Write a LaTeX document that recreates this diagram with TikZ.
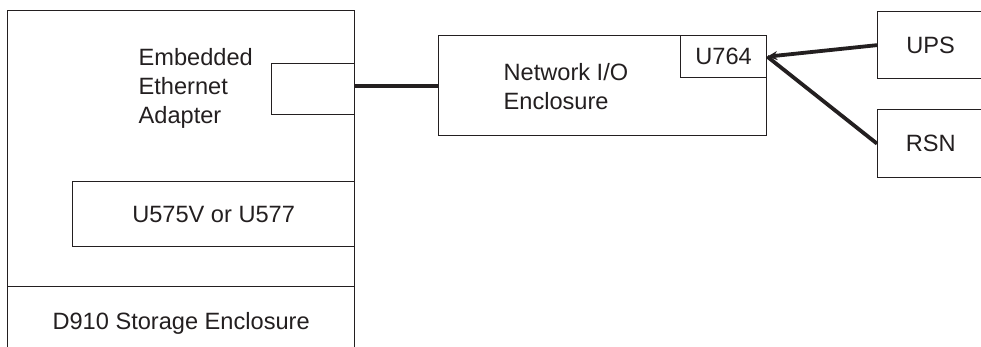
\documentclass[tikz,border=0pt]{standalone}
\usepackage{fontspec}
\setmainfont{Liberation Sans}
\usetikzlibrary{arrows.meta,positioning}
\definecolor{ink}{RGB}{35,31,32}

\begin{document}
\begin{tikzpicture}[x=1pt,y=-1pt,inner sep=0pt,line width=1.3pt,node font=\fontsize{23.6}{29}\selectfont,color=ink]
	\tikzstyle{box}=[draw,rectangle,anchor=north west,text=ink]
	\tikzstyle{link}=[line width=3.8pt]
	\clip (0,0) rectangle (981,347);
	
	\node[box,minimum width=347pt,minimum height=276pt]  (D910)  at (7,10)   {};
	\node[box,minimum width=347pt,minimum height=74pt]   (STOR)  at (7,286)  {D910 Storage Enclosure};
	\node[box,minimum width=83pt,minimum height=51pt]    (PORT)  at (271,63) {};
	\node[anchor=west,align=left]                        (EEA)   at (138,88) {Embedded\\Ethernet\\Adapter};
	\node[box,minimum width=282pt,minimum height=65pt]   (U575)  at (72,181) {U575V or U577};
	\node[box,minimum width=328pt,minimum height=100pt]  (NIO)   at (438,35) {};
	\node[anchor=west,align=left]                        (NIOT)  at (503,87) {Network I/O\\Enclosure};
	\node[box,minimum width=86pt,minimum height=42pt]    (U764)  at (680,35) {U764};
	\node[box,minimum width=106pt,minimum height=67pt]   (UPS)   at (877,11) {UPS};
	\node[box,minimum width=106pt,minimum height=68pt]   (RSN)   at (877,109) {RSN};
	
	\path
	(PORT.east |- NIO.west) edge [link] (NIO.west)
	(UPS.west) edge [link,-{Stealth[length=10pt,width=9pt]}] (U764.east)
	(RSN.west) edge [link] (U764.east);
\end{tikzpicture}
\end{document}
